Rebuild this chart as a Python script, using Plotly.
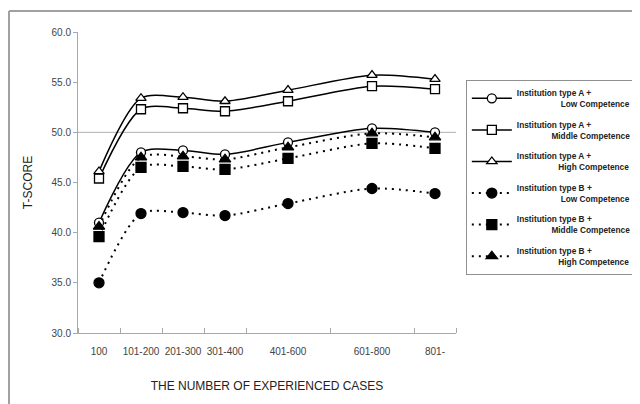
import plotly.graph_objects as go

# category intervals (non-uniform widths on the x axis)
categories = ["100", "101-200", "201-300", "301-400", "401-600", "601-800", "801-"]
cat_edges = [0, 1, 2, 3, 4, 6, 8, 9]
cat_centers = [0.5, 1.5, 2.5, 3.5, 5, 7, 8.5]

series_names = [
    "Institution type A +<br>" + "\u00a0" * 19 + "Low Competence",
    "Institution type A +<br>" + "\u00a0" * 15 + "Middle Competence",
    "Institution type A +<br>" + "\u00a0" * 18 + "High Competence",
    "Institution type B +<br>" + "\u00a0" * 19 + "Low Competence",
    "Institution type B +<br>" + "\u00a0" * 15 + "Middle Competence",
    "Institution type B +<br>" + "\u00a0" * 18 + "High Competence",
]
a_low = [41.0, 48.0, 48.2, 47.8, 49.0, 50.4, 50.0]
a_mid = [45.4, 52.3, 52.4, 52.1, 53.1, 54.6, 54.3]
a_high = [46.1, 53.4, 53.5, 53.1, 54.2, 55.7, 55.3]
b_low = [35.0, 41.9, 42.0, 41.7, 42.9, 44.4, 43.9]
b_mid = [39.6, 46.5, 46.6, 46.3, 47.4, 48.9, 48.4]
b_high = [40.6, 47.5, 47.6, 47.3, 48.5, 49.9, 49.5]
values = [a_low, a_mid, a_high, b_low, b_mid, b_high]

y_ticks = [30, 35, 40, 45, 50, 55, 60]

styles = [
    dict(dash="solid", symbol="circle", fill="white"),
    dict(dash="solid", symbol="square", fill="white"),
    dict(dash="solid", symbol="triangle-up", fill="white"),
    dict(dash="2px,5px", symbol="circle", fill="black"),
    dict(dash="2px,5px", symbol="square", fill="black"),
    dict(dash="2px,5px", symbol="triangle-up", fill="black"),
]

fig = go.Figure()
for i, (name, vals, st) in enumerate(zip(series_names, values, styles)):
    solid = st["dash"] == "solid"
    fig.add_trace(go.Scatter(
        x=cat_centers, y=vals, name=name, mode="lines+markers",
        legendgroup=f"g{i}",
        line=dict(color="black", width=1.5 if solid else 2, dash=st["dash"],
                  shape="spline", smoothing=0.8),
        marker=dict(symbol=st["symbol"], size=9 if solid else 10,
                    color=st["fill"],
                    line=dict(color="black", width=1.3)),
    ))

# reference line at 50
fig.add_shape(type="line", xref="paper", yref="y", x0=0, x1=1, y0=50, y1=50,
              line=dict(color="#b0b0b0", width=1), layer="below")
# outer frame (top and left edges)
fig.add_shape(type="line", xref="paper", yref="paper", x0=-0.1825, x1=1.7, y0=1.0698, y1=1.0698,
              line=dict(color="#a0a0a0", width=2))
fig.add_shape(type="line", xref="paper", yref="paper", x0=-0.1825, x1=-0.1825, y0=1.0698, y1=-0.3,
              line=dict(color="#a0a0a0", width=2))

fig.update_layout(
    width=632, height=396,
    margin=dict(l=70, r=184, t=24, b=71, autoexpand=False),
    paper_bgcolor="white", plot_bgcolor="white",
    font=dict(family="Arial, Liberation Sans, sans-serif", color="#333"),
    showlegend=True,
    legend=dict(
        x=1.026, y=0.8405, xanchor="left", yanchor="top",
        bordercolor="#909090", borderwidth=1, bgcolor="white",
        font=dict(size=8.3, color="#222", weight="bold"),
        tracegroupgap=7, itemwidth=40,
    ),
    xaxis=dict(
        range=[0, 9], tickvals=cat_centers, ticktext=categories, ticks="",
        showgrid=False, zeroline=False, showline=True, linecolor="#a8a8a8", linewidth=1,
        tickfont=dict(size=10, color="#444"), ticklabelstandoff=9,
        minor=dict(tickvals=cat_edges, ticks="inside", ticklen=5, tickcolor="#a8a8a8", showgrid=False),
        title=dict(text="THE NUMBER OF EXPERIENCED CASES", font=dict(size=12, color="#222"), standoff=25),
    ),
    yaxis=dict(
        range=[30, 60], tickvals=y_ticks, tickformat=".1f", ticks="outside", ticklen=4,
        tickcolor="#a8a8a8", showgrid=False, zeroline=False, showline=True,
        linecolor="#a8a8a8", linewidth=1, tickfont=dict(size=10, color="#444"),
        title=dict(text="T-SCORE", font=dict(size=12, color="#222"), standoff=16),
    ),
)

fig.write_html("out.html")
